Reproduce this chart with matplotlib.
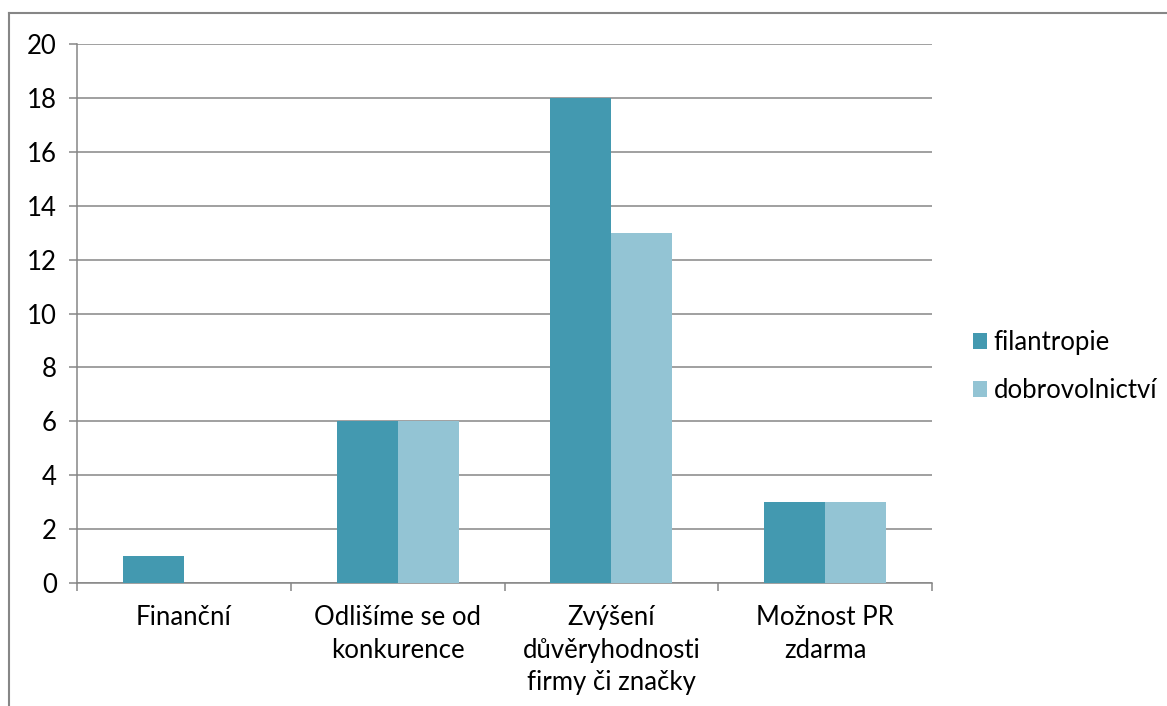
import matplotlib
matplotlib.use("Agg")
import matplotlib.pyplot as plt
from matplotlib.lines import Line2D
import numpy as np

categories = ["Finanční", "Odlišíme se od\nkonkurence", "Zvýšení\ndůvěryhodnosti\nfirmy či značky", "Možnost PR\nzdarma"]
filantropie = [1, 6, 18, 3]
dobrovolnictvi = [0, 6, 13, 3]
series_names = ["filantropie", "dobrovolnictví"]
y_ticks = [0, 2, 4, 6, 8, 10, 12, 14, 16, 18, 20]

W, H, DPI = 1167, 706, 100
plt.rcParams["font.family"] = ["Lato", "DejaVu Sans"]
fig = plt.figure(figsize=(W / DPI, H / DPI), dpi=DPI)

ax = fig.add_axes([77 / W, 1 - 583 / H, (932 - 77) / W, (583 - 44) / H])

grey = "#868686"
c1 = "#4399B0"
c2 = "#93C4D4"
fs = 18.5

x = np.arange(len(categories))
bw = 0.285
ax.bar(x - bw / 2, filantropie, bw, color=c1, label=series_names[0], zorder=3)
ax.bar(x + bw / 2, dobrovolnictvi, bw, color=c2, label=series_names[1], zorder=3)

ax.set_xlim(-0.5, len(categories) - 0.5)
ax.set_ylim(0, 20)
ax.set_yticks(y_ticks)
ax.set_yticklabels([str(v) for v in y_ticks], fontsize=fs)
ax.yaxis.grid(True, color=grey, linewidth=1.1, zorder=0)
ax.set_axisbelow(True)

ax.set_xticks(np.arange(len(categories) + 1) - 0.5)
ax.set_xticklabels([])
ax.set_xticks(x, minor=True)
ax.set_xticklabels(categories, minor=True, fontsize=fs, linespacing=1.38)
ax.tick_params(axis="x", which="major", length=5.5, width=1.1, color=grey, direction="out")
ax.tick_params(axis="x", which="minor", length=0, pad=16)
ax.tick_params(axis="y", length=5.5, width=1.1, color=grey, pad=9, labelcolor="black")

for s in ["top", "right"]:
    ax.spines[s].set_visible(False)
for s in ["left", "bottom"]:
    ax.spines[s].set_color(grey)
    ax.spines[s].set_linewidth(1.1)

leg = fig.legend(loc="upper left", bbox_to_anchor=(973 / W, 1 - 330 / H), frameon=False,
                 fontsize=fs, handlelength=0.55, handleheight=0.55, handletextpad=0.25,
                 labelspacing=0.9, borderaxespad=0, borderpad=0)

# outer chart border
fig.add_artist(Line2D([8.5 / W, 8.5 / W], [0, 1 - 13 / H], transform=fig.transFigure, color=grey, lw=1.5))
fig.add_artist(Line2D([8.5 / W, 1.0], [1 - 13 / H, 1 - 13 / H], transform=fig.transFigure, color=grey, lw=1.5))

fig.savefig("out.png", dpi=DPI, facecolor="white")
